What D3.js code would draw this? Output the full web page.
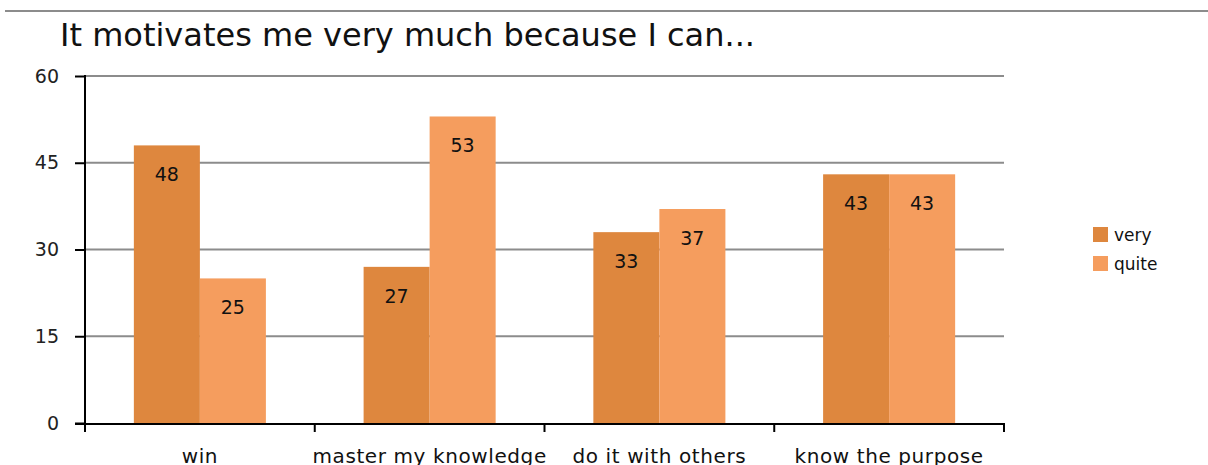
<!DOCTYPE html>
<html lang="en">
<head>
<meta charset="UTF-8">
<title>Motivation</title>
<script src="https://cdn.jsdelivr.net/npm/d3@7"></script>
<style>
  body { margin: 0; background: #fff; }
  svg { display: block; font-family: "DejaVu Sans", Verdana, sans-serif; }
</style>
</head>
<body>
<div id="chart"></div>
<script>
const categories = ["win", "master my knowledge", "do it with others", "know the purpose"]
const seriesNames = ["very", "quite"]
const veryValues = [48, 27, 33, 43]
const quiteValues = [25, 53, 37, 43]
const yTicks = [0, 15, 30, 45, 60]
const colors = ["#de873e", "#f59d5e"]

const W = 1208, H = 465
const svg = d3.select("#chart").append("svg")
    .attr("width", W).attr("height", H)

// top rule
svg.append("line")
    .attr("x1", 5).attr("x2", W).attr("y1", 11).attr("y2", 11)
    .attr("stroke", "#8c8c8c").attr("stroke-width", 2)

svg.append("text")
    .attr("x", 60).attr("y", 46)
    .attr("font-size", 32)
    .attr("fill", "#111")
    .text("It motivates me very much because I can...")

const x0 = d3.scaleBand().domain(categories).range([85, 1004]).paddingInner(0).paddingOuter(0)
const x1 = d3.scaleBand().domain(seriesNames).range([0, x0.bandwidth()]).paddingInner(0).paddingOuter(0.74)
const y = d3.scaleLinear().domain([0, 60]).range([423, 76])

// gridlines
svg.append("g").selectAll("line").data(yTicks.filter(d => d > 0)).join("line")
    .attr("x1", 85).attr("x2", 1004)
    .attr("y1", d => y(d)).attr("y2", d => y(d))
    .attr("stroke", "#8c8c8c").attr("stroke-width", 2)

const rows = categories.map((c, i) => ({cat: c, vals: [veryValues[i], quiteValues[i]]}))

const groups = svg.append("g").selectAll("g").data(rows).join("g")
    .attr("transform", d => `translate(${x0(d.cat)},0)`)

groups.selectAll("rect").data(d => d.vals.map((v, j) => ({key: seriesNames[j], v, j}))).join("rect")
    .attr("x", d => x1(d.key))
    .attr("width", x1.bandwidth())
    .attr("y", d => y(d.v))
    .attr("height", d => y(0) - y(d.v))
    .attr("fill", d => colors[d.j])

groups.selectAll("text").data(d => d.vals.map((v, j) => ({key: seriesNames[j], v, j}))).join("text")
    .attr("x", d => x1(d.key) + x1.bandwidth() / 2)
    .attr("y", d => y(d.v) + 36)
    .attr("text-anchor", "middle")
    .attr("font-size", 19)
    .attr("fill", "#111")
    .text(d => d.v)

// y axis
const yAxis = svg.append("g")
    .attr("transform", "translate(85,0)")
    .call(d3.axisLeft(y).tickValues(yTicks).tickSize(10).tickPadding(16))
yAxis.select(".domain").remove()
yAxis.selectAll(".tick line").attr("stroke", "#000").attr("stroke-width", 2)
yAxis.selectAll(".tick text").attr("font-size", 19).attr("fill", "#222")
    .attr("font-family", "DejaVu Sans, sans-serif")
svg.append("line").attr("x1", 85).attr("x2", 85).attr("y1", 75).attr("y2", 432)
    .attr("stroke", "#000").attr("stroke-width", 2)

// x axis
svg.append("line").attr("x1", 75).attr("x2", 1005).attr("y1", 424).attr("y2", 424)
    .attr("stroke", "#000").attr("stroke-width", 2)
const bounds = categories.map(c => x0(c)).concat([x0.range()[1]])
svg.append("g").selectAll("line").data(bounds).join("line")
    .attr("x1", d => d).attr("x2", d => d)
    .attr("y1", 424).attr("y2", 432)
    .attr("stroke", "#000").attr("stroke-width", 2)
svg.append("g").selectAll("text").data(categories).join("text")
    .attr("x", d => x0(d) + x0.bandwidth() / 2)
    .attr("y", 463)
    .attr("text-anchor", "middle")
    .attr("font-size", 20)
    .attr("letter-spacing", 0.6)
    .attr("fill", "#111")
    .text(d => d)

// legend
const legend = svg.append("g").selectAll("g").data(seriesNames).join("g")
    .attr("transform", (d, i) => `translate(1093,${227 + i * 29})`)
legend.append("rect").attr("width", 15).attr("height", 15)
    .attr("fill", (d, i) => colors[i])
legend.append("text").attr("x", 21).attr("y", 14)
    .attr("font-size", 17).attr("fill", "#111")
    .text(d => d)
</script>
</body>
</html>
